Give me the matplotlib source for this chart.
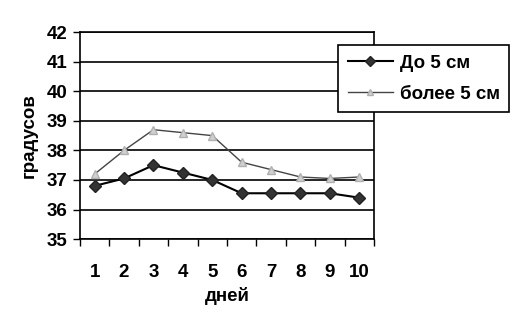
import matplotlib
matplotlib.use("Agg")
import matplotlib.pyplot as plt
import numpy as np

days = [1, 2, 3, 4, 5, 6, 7, 8, 9, 10]
series_small = [36.8, 37.05, 37.5, 37.25, 37.0, 36.55, 36.55, 36.55, 36.55, 36.4]
series_large = [37.2, 38.0, 38.7, 38.6, 38.5, 37.6, 37.35, 37.1, 37.05, 37.1]
label_small = "До 5 см"
label_large = "более 5 см"
yticks = [35, 36, 37, 38, 39, 40, 41, 42]

plt.rcParams['font.family'] = ['Liberation Sans', 'DejaVu Sans']
FS = 13.5

fig = plt.figure(figsize=(5.26, 3.15), dpi=100)
ax = fig.add_axes([0.152, 0.241, 0.559, 0.657])

x = np.arange(len(days))
ax.plot(x, series_small, color='black', lw=1.5, marker='D', markersize=6,
        markerfacecolor='#333333', markeredgecolor='#222222', label=label_small, zorder=3)
ax.plot(x, series_large, color='#444444', lw=1.0, marker='^', markersize=6,
        markerfacecolor='#d0d0d0', markeredgecolor='#b0b0b0', label=label_large, zorder=3)

ax.set_xlim(-0.5, len(days) - 0.5)
ax.set_ylim(35, 42)
ax.set_yticks(yticks)
ax.set_yticklabels([str(v) for v in yticks], fontsize=FS, fontweight='bold')
ax.set_xticks(x)
ax.set_xticklabels([str(d) for d in days], fontsize=FS, fontweight='bold')
ax.set_xticks(np.arange(-0.5, len(days), 1.0), minor=True)
ax.tick_params(axis='x', which='major', length=0, pad=18)
ax.tick_params(axis='x', which='minor', length=5, width=1, direction='out')
ax.tick_params(axis='y', which='major', length=5, width=1, direction='out', pad=4)
ax.grid(axis='y', color='black', lw=1.2)
ax.set_axisbelow(True)
for s in ax.spines.values():
    s.set_color('black')
    s.set_linewidth(1.2)

ax.set_ylabel("градусов", fontsize=FS, fontweight='bold', labelpad=6)
ax.set_xlabel("дней", fontsize=FS, fontweight='bold', labelpad=4)

leg = fig.legend(loc='upper left', bbox_to_anchor=(0.643, 0.857), frameon=True,
                 fancybox=False, edgecolor='black', framealpha=1,
                 prop={'size': FS, 'weight': 'bold'}, handlelength=2.4,
                 handletextpad=0.4, markerscale=0.8, borderaxespad=0,
                 borderpad=0.5, labelspacing=0.75)
leg.get_frame().set_linewidth(1.2)

fig.savefig("out.png", dpi=100, facecolor='white')
